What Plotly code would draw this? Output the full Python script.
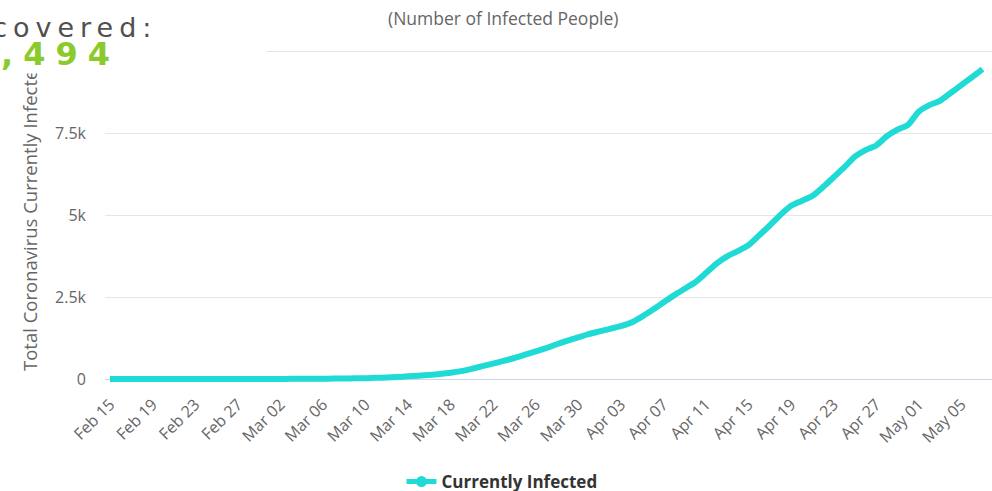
import pandas as pd
import plotly.graph_objects as go

# ---- data -------------------------------------------------------------
start_date = "2020-02-15"
end_date = "2020-05-07"

# daily count of currently infected people, Feb 15 .. May 07
currently_infected = [
    1, 1, 1, 1, 1, 1, 1, 1, 1, 1,
    1, 1, 1, 1, 2, 2, 3, 4, 5, 7,
    9, 12, 15, 20, 26, 35, 48, 62, 80, 100,
    125, 155, 190, 240, 310, 390, 470, 550, 640, 740,
    840, 940, 1060, 1170, 1270, 1370, 1450, 1530, 1610, 1720,
    1900, 2110, 2330, 2550, 2750, 2950, 3230, 3520, 3740, 3900,
    4080, 4380, 4680, 5000, 5280, 5430, 5580, 5850, 6150, 6450,
    6780, 6980, 7120, 7400, 7600, 7750, 8150, 8350, 8480, 8720,
    8960, 9200, 9450,
]

tick_labels = [
    "Feb 15", "Feb 19", "Feb 23", "Feb 27", "Mar 02", "Mar 06", "Mar 10",
    "Mar 14", "Mar 18", "Mar 22", "Mar 26", "Mar 30", "Apr 03", "Apr 07",
    "Apr 11", "Apr 15", "Apr 19", "Apr 23", "Apr 27", "May 01", "May 05",
]
y_ticks = [0, 2500, 5000, 7500, 10000]
y_tick_labels = ["0", "2.5k", "5k", "7.5k", "10k"]

series_name = "Currently Infected"
subtitle = "(Number of Infected People)"
y_title = "Total Coronavirus Currently Infected"
recovered_label = "Recovered:"
recovered_value = ",494"

dates = pd.date_range(start_date, end_date, freq="D")
tick_dates = pd.date_range(start_date, periods=len(tick_labels), freq="4D")

# ---- geometry ---------------------------------------------------------
W, H = 992, 491
ML, MR, MT, MB = 105, 0, 44, 109
PW, PH = W - ML - MR, H - MT - MB

LINE_COLOR = "#1FDAD5"
TEXT_GREY = "#666666"
FONT = "Open Sans"


def px_x(px):
    return (px - ML) / PW


def px_y(py):
    return (H - MB - py) / PH


x_start = pd.Timestamp(start_date) - pd.Timedelta(days=0.47)
x_end = pd.Timestamp(end_date) + pd.Timedelta(days=0.89)

fig = go.Figure()

fig.add_trace(go.Scatter(
    x=dates, y=currently_infected, mode="lines", name=series_name,
    line=dict(color=LINE_COLOR, width=6, shape="spline", smoothing=0.6),
    showlegend=False, hoverinfo="skip",
))
# legend entry (line with a round marker)
fig.add_trace(go.Scatter(
    x=[None], y=[None], mode="lines+markers", name="<b>" + series_name + "</b>",
    line=dict(color=LINE_COLOR, width=5),
    marker=dict(color=LINE_COLOR, size=11, symbol="circle"),
))

fig.update_layout(
    width=W, height=H,
    margin=dict(l=ML, r=MR, t=MT, b=MB, pad=0, autoexpand=False),
    paper_bgcolor="white", plot_bgcolor="white",
    font=dict(family=FONT, color=TEXT_GREY, size=15),
    showlegend=True,
    legend=dict(
        orientation="h", xanchor="center", yanchor="middle",
        x=px_x(502), y=px_y(482),
        font=dict(family=FONT, size=17, color="#333333"),
        bgcolor="rgba(0,0,0,0)",
    ),
    hovermode=False,
)

fig.update_xaxes(
    type="date", range=[x_start, x_end], automargin=False,
    tickmode="array", tickvals=tick_dates, ticktext=tick_labels,
    tickangle=-45, ticks="", showgrid=False, zeroline=False,
    showline=False, ticklabelstandoff=9,
    tickfont=dict(family=FONT, size=16, color=TEXT_GREY),
)
fig.update_yaxes(
    range=[-91.5, 10213.4], automargin=False,
    tickmode="array", tickvals=y_ticks, ticktext=y_tick_labels,
    ticks="", showgrid=True, gridcolor="#e6e6e6", gridwidth=1,
    zeroline=True, zerolinecolor="#ccd6eb", zerolinewidth=1,
    showline=False, ticklabelstandoff=18,
    tickfont=dict(family=FONT, size=16, color=TEXT_GREY),
)

annotations = [
    dict(text=subtitle, x=px_x(503), y=px_y(18), xref="paper", yref="paper",
         xanchor="center", yanchor="middle", showarrow=False,
         font=dict(family=FONT, size=17.5, color=TEXT_GREY)),
    dict(text=y_title, x=px_x(29), y=px_y(215), xref="paper", yref="paper",
         xanchor="center", yanchor="middle", showarrow=False, textangle=-90,
         font=dict(family=FONT, size=18.5, color=TEXT_GREY)),
    # white header panel sitting over the top-left corner
    dict(text=" ", x=px_x(0), y=px_y(0), xref="paper", yref="paper",
         xanchor="left", yanchor="top", showarrow=False,
         width=265, height=72, borderpad=0, bgcolor="white"),
    dict(text='<span style="letter-spacing:6px">' + recovered_label + "</span>",
         x=px_x(159), y=px_y(28), xref="paper", yref="paper",
         xanchor="right", yanchor="middle", showarrow=False,
         font=dict(family="DejaVu Sans", size=27, color="#505050")),
    dict(text='<span style="letter-spacing:10px"><b>' + recovered_value + "</b></span>",
         x=px_x(122), y=px_y(54), xref="paper", yref="paper",
         xanchor="right", yanchor="middle", showarrow=False,
         font=dict(family="DejaVu Sans", size=32, color="#8ACA2B")),
]
fig.update_layout(annotations=annotations)

fig.write_html("out.html", config={"displayModeBar": False})
